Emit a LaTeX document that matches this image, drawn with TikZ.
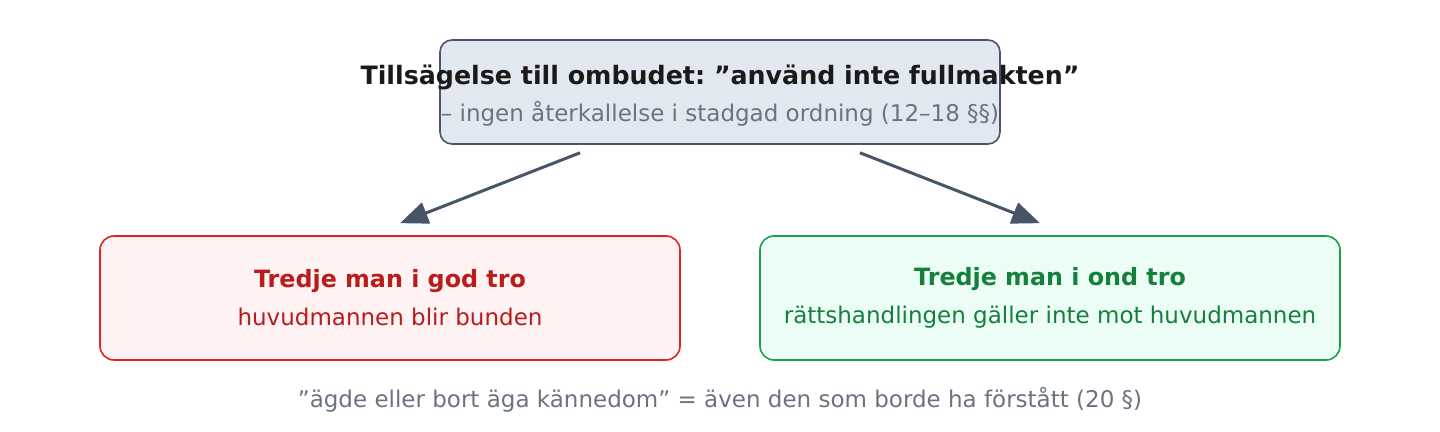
\documentclass[tikz,border=0pt]{standalone}
\usepackage{fontspec}
\setmainfont{DejaVu Sans}
\usepackage{xcolor}
\usetikzlibrary{shapes,arrows.meta,positioning}
\frenchspacing

\definecolor{slateline}{HTML}{475569}
\definecolor{slatefill}{HTML}{E2E8F0}
\definecolor{inkdark}{HTML}{1A1A1A}
\definecolor{inkgray}{HTML}{6B7280}
\definecolor{redline}{HTML}{DC2626}
\definecolor{redfill}{HTML}{FEF2F2}
\definecolor{redink}{HTML}{B91C1C}
\definecolor{greenline}{HTML}{16A34A}
\definecolor{greenfill}{HTML}{ECFDF5}
\definecolor{greenink}{HTML}{15803D}

\begin{document}
\begin{tikzpicture}[
    x=0.5pt, y=-0.5pt,
    node distance=39.2pt,
    box/.style={rectangle, draw, line width=0.8pt, rounded corners=7pt, inner sep=0pt, minimum width=290pt, minimum height=62pt, align=center, font=\fontsize{11.5}{13}\selectfont},
    arrow/.style={-{Triangle[length=14pt, width=11pt]}, line width=1.5pt, draw=slateline}
]
\useasboundingbox (0,0) rectangle (1440,432);
\node[box, draw=slateline, fill=slatefill, rounded corners=6pt, minimum width=280pt, minimum height=52pt] (notice) at (720,92)
    {\rule{0pt}{13.6pt}\makebox[0pt]{\color{inkdark}\bfseries\fontsize{12.65}{13}\selectfont Tillsägelse till ombudet: ”använd inte fullmakten”}\\[5.5pt]
     \color{inkgray}– ingen återkallelse i stadgad ordning (12–18 §§)};
\node[box, draw=redline, fill=redfill, text=redink] (goodfaith) at (390,298)
    {\bfseries\fontsize{11.9}{13}\selectfont Tredje man i god tro\\[6pt] huvudmannen blir bunden};
\node[box, draw=greenline, fill=greenfill, text=greenink, right=of goodfaith] (badfaith)
    {\bfseries\fontsize{11.9}{13}\selectfont Tredje man i ond tro\\[6pt] rättshandlingen gäller inte mot huvudmannen};
\node[text=inkgray, font=\fontsize{11.5}{13}\selectfont] (knowledge) at (720,400)
    {”ägde eller bort äga kännedom” = även den som borde ha förstått (20 §)};

\draw[arrow] ([xshift=-70pt, yshift=-4pt]notice.south) -- ([xshift=5pt, yshift=6pt]goodfaith.north);
\draw[arrow] ([xshift=70pt, yshift=-4pt]notice.south) -- ([xshift=-5pt, yshift=6pt]badfaith.north);
\end{tikzpicture}
\end{document}
